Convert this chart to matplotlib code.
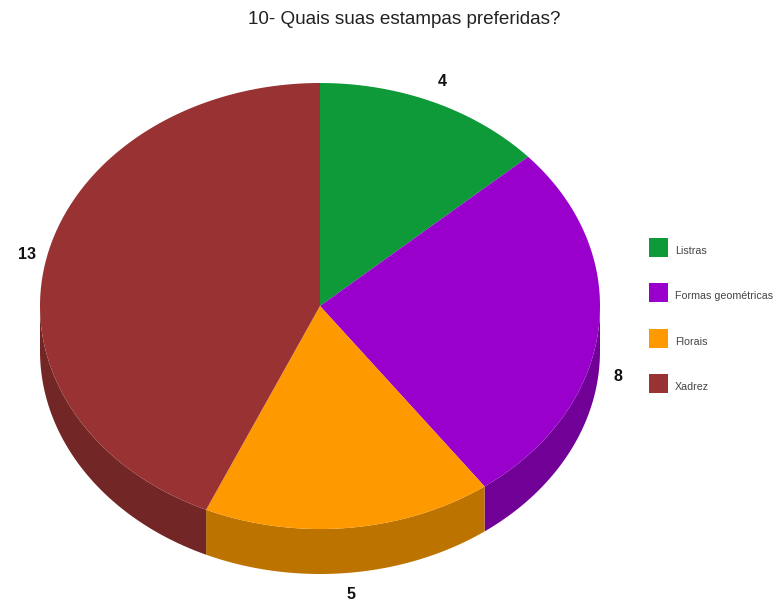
"""Pie chart (3D look) of preferred print patterns."""

import numpy as np
import matplotlib.pyplot as plt
from matplotlib.patches import Polygon, Rectangle

plt.rcParams['font.family'] = ['Liberation Sans', 'DejaVu Sans']

categories = ['Listras', 'Formas geométricas', 'Florais', 'Xadrez']
counts = [4, 8, 5, 13]
top_colors = ['#0f9a3a', '#9900cc', '#ff9900', '#993333']
side_colors = ['#0a6e29', '#700096', '#bd7300', '#732626']

# pie geometry in pixel units
cx, cy = 320, 306
rx, ry = 280, 223
depth = 45


def ellipse_pts(a0, a1, dy=0, n=200):
    """Points on the ellipse rim, angles in degrees clockwise from top."""
    t = np.radians(np.linspace(a0, a1, n))
    return np.column_stack([cx + rx * np.sin(t), cy - ry * np.cos(t) + dy])


fig = plt.figure(figsize=(7.78, 6.04), dpi=100)
ax = fig.add_axes([0, 0, 1, 1])
ax.set_xlim(0, 778)
ax.set_ylim(604, 0)
ax.axis('off')

total = sum(counts)
bounds = np.concatenate([[0], np.cumsum(counts) / total * 360])

# outer wall, only the front half is visible
for i in range(len(counts)):
    a0 = max(bounds[i], 90)
    a1 = min(bounds[i + 1], 270)
    if a1 <= a0:
        continue
    upper = ellipse_pts(a0, a1)
    lower = ellipse_pts(a0, a1, dy=depth)[::-1]
    ax.add_patch(Polygon(np.vstack([upper, lower]), closed=True,
                         facecolor=side_colors[i], edgecolor='none'))

# top faces
for i in range(len(counts)):
    rim = ellipse_pts(bounds[i], bounds[i + 1])
    pts = np.vstack([[cx, cy], rim])
    ax.add_patch(Polygon(pts, closed=True, facecolor=top_colors[i],
                         edgecolor='none'))

# value labels just outside the rim
for i, v in enumerate(counts):
    mid = np.radians((bounds[i] + bounds[i + 1]) / 2)
    lx = cx + rx * 1.07 * np.sin(mid)
    ly = cy - ry * 1.1 * np.cos(mid)
    if np.cos(mid) < 0:
        ly += depth
    ax.text(lx, ly, str(v), ha='center', va='center', fontsize=11.5,
            fontweight='bold', color='#111111')

ax.text(404, 19, '10- Quais suas estampas preferidas?', ha='center',
        va='center', fontsize=13.6, color='#222222')

# legend
for i, name in enumerate(categories):
    y = 247.5 + i * 45.3
    ax.add_patch(Rectangle((649, y - 9.5), 19, 19, facecolor=top_colors[i],
                           edgecolor='none'))
    ax.text(675, y + 3.5, name, ha='left', va='center', fontsize=7.7,
            color='#444444')

fig.savefig('out.png', dpi=100, facecolor='white')
